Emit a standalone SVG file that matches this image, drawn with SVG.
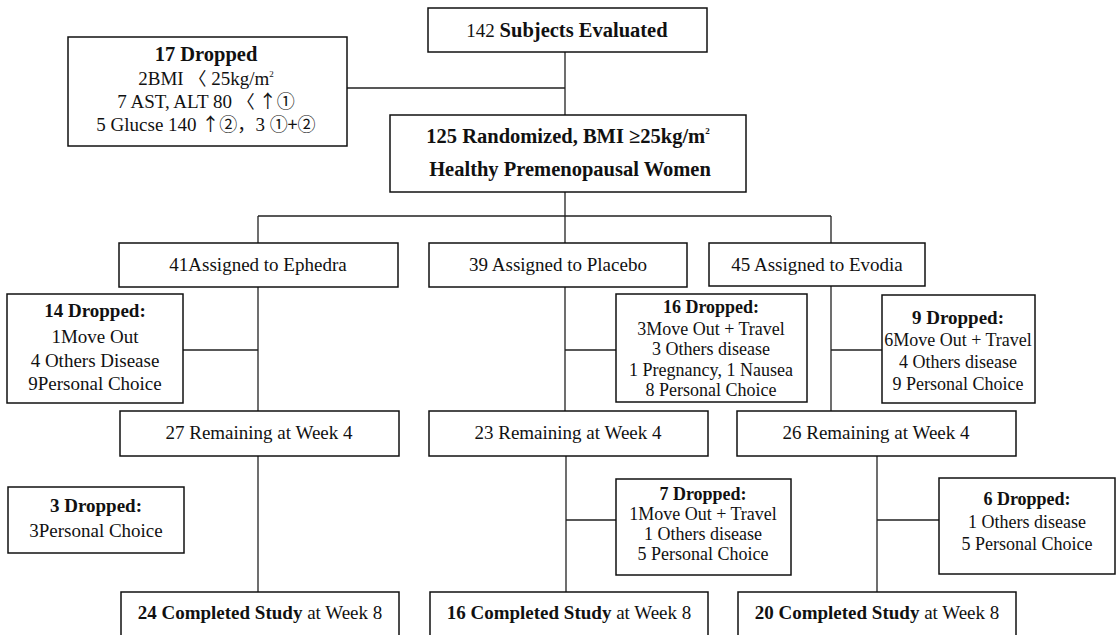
<svg xmlns="http://www.w3.org/2000/svg" width="1117" height="635" viewBox="0 0 1117 635">
<style>
.box{fill:#fff;stroke:#111;stroke-width:1.5}
.ln{stroke:#222;stroke-width:1.3;fill:none}
text{font-family:'Liberation Serif','Times New Roman','DejaVu Serif',serif;font-size:19px;fill:#111;text-anchor:middle}
.cjk{font-family:'Noto Sans CJK JP','Noto Sans CJK SC',sans-serif;font-size:18px}
.b{font-weight:bold}
.bl{font-weight:bold;font-size:20.5px}
.s{font-size:18px}
.sup{font-size:9px}
</style>
<rect width="1117" height="635" fill="#fff"/>
<g id="connectors">
<path class="ln" d="M565,52V115M347,88H565M565,192V243M258,216H831M258,216V243M831,216V243"/>
<path class="ln" d="M258,287V411M183,350H258M565,287V411M565,350H616M831,286V411M831,350H882"/>
<path class="ln" d="M258,456V592M566,456V592M566,520H616M877,456V592M877,520H939"/>
</g>
<g id="n-evaluated"><rect class="box" x="428" y="8" width="279" height="44"/><text x="567" y="37">142 <tspan class="bl">Subjects Evaluated</tspan></text></g>
<g id="n-drop17"><rect class="box" x="68" y="37" width="279" height="109"/>
<text class="bl" x="206" y="61">17 Dropped</text>
<text x="206" y="85">2BMI <tspan class="cjk">〈</tspan> 25kg/m<tspan class="sup" dy="-8">2</tspan></text>
<text x="206" y="108">7 AST, ALT 80 <tspan class="cjk">〈 ↑①</tspan></text>
<text x="206" y="131">5 Glucse 140 <tspan class="cjk">↑②，</tspan>3 <tspan class="cjk">①+②</tspan></text>
</g>
<g id="n-randomized"><rect class="box" x="390" y="115" width="356" height="77"/>
<text class="bl" x="568" y="143">125 Randomized, BMI ≥25kg/m<tspan class="sup" dy="-9">2</tspan></text>
<text class="bl" x="570" y="176">Healthy Premenopausal Women</text></g>
<g id="n-ephedra"><rect class="box" x="119" y="243" width="279" height="44"/><text x="258" y="271">41Assigned to Ephedra</text></g>
<g id="n-placebo"><rect class="box" x="429" y="243" width="258" height="44"/><text x="558" y="271">39 Assigned to Placebo</text></g>
<g id="n-evodia"><rect class="box" x="709" y="243" width="216" height="43"/><text x="817" y="271">45 Assigned to Evodia</text></g>
<g id="n-drop14"><rect class="box" x="7" y="294" width="176" height="109"/>
<text class="b" x="95" y="317">14 Dropped:</text><text x="95" y="343">1Move Out</text><text x="95" y="367">4 Others Disease</text><text x="95" y="390">9Personal Choice</text></g>
<g id="n-drop16"><rect class="box" x="616" y="294" width="191" height="108"/>
<text class="b s" x="711" y="313">16 Dropped:</text><text class="s" x="711" y="335">3Move Out + Travel</text><text class="s" x="711" y="355">3 Others disease</text><text class="s" x="711" y="376">1 Pregnancy, 1 Nausea</text><text class="s" x="711" y="396">8 Personal Choice</text></g>
<g id="n-drop9"><rect class="box" x="882" y="295" width="153" height="108"/>
<text class="b" x="958" y="324">9 Dropped:</text><text class="s" x="958" y="346">6Move Out + Travel</text><text class="s" x="958" y="368">4 Others disease</text><text class="s" x="958" y="390">9 Personal Choice</text></g>
<g id="n-rem27"><rect class="box" x="120" y="411" width="279" height="45"/><text x="259" y="439">27 Remaining at Week 4</text></g>
<g id="n-rem23"><rect class="box" x="429" y="411" width="279" height="45"/><text x="568" y="439">23 Remaining at Week 4</text></g>
<g id="n-rem26"><rect class="box" x="737" y="411" width="279" height="45"/><text x="876" y="439">26 Remaining at Week 4</text></g>
<g id="n-drop3"><rect class="box" x="8" y="487" width="176" height="66"/>
<text class="b" x="96" y="512">3 Dropped:</text><text x="96" y="537">3Personal Choice</text></g>
<g id="n-drop7"><rect class="box" x="616" y="479" width="175" height="96"/>
<text class="b s" x="703" y="500">7 Dropped:</text><text class="s" x="703" y="520">1Move Out + Travel</text><text class="s" x="703" y="540">1 Others disease</text><text class="s" x="703" y="560">5 Personal Choice</text></g>
<g id="n-drop6"><rect class="box" x="939" y="478" width="176" height="96"/>
<text class="b s" x="1027" y="505">6 Dropped:</text><text class="s" x="1027" y="528">1 Others disease</text><text class="s" x="1027" y="550">5 Personal Choice</text></g>
<g id="n-comp24"><rect class="box" x="121" y="592" width="278" height="50"/><text x="260" y="619"><tspan class="b">24 Completed Study</tspan> at Week 8</text></g>
<g id="n-comp16"><rect class="box" x="430" y="592" width="278" height="50"/><text x="569" y="619"><tspan class="b">16 Completed Study</tspan> at Week 8</text></g>
<g id="n-comp20"><rect class="box" x="738" y="592" width="278" height="50"/><text x="877" y="619"><tspan class="b">20 Completed Study</tspan> at Week 8</text></g>
</svg>
